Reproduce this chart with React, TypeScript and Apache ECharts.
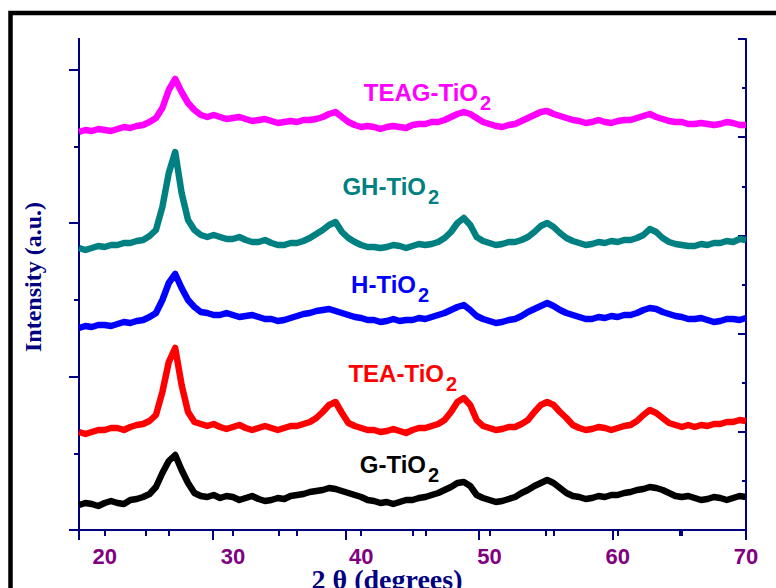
import React, { useEffect, useRef } from "react";
import * as echarts from "echarts";

// 2θ positions (degrees) shared by all patterns, 0.5° step
const twoTheta = [
  18, 18.5, 19, 19.5, 20, 20.5, 21, 21.5, 22, 22.5,
  23, 23.5, 24, 24.5, 25, 25.5, 26, 26.5, 27, 27.5,
  28, 28.5, 29, 29.5, 30, 30.5, 31, 31.5, 32, 32.5,
  33, 33.5, 34, 34.5, 35, 35.5, 36, 36.5, 37, 37.5,
  38, 38.5, 39, 39.5, 40, 40.5, 41, 41.5, 42, 42.5,
  43, 43.5, 44, 44.5, 45, 45.5, 46, 46.5, 47, 47.5,
  48, 48.5, 49, 49.5, 50, 50.5, 51, 51.5, 52, 52.5,
  53, 53.5, 54, 54.5, 55, 55.5, 56, 56.5, 57, 57.5,
  58, 58.5, 59, 59.5, 60, 60.5, 61, 61.5, 62, 62.5,
  63, 63.5, 64, 64.5, 65, 65.5, 66, 66.5, 67, 67.5,
  68, 68.5, 69, 69.5, 70,
];

// Stacked (offset) intensities, arbitrary units
const gTiO2 = [
  25, 27, 26, 24, 27, 29, 27, 26, 30, 31,
  33, 36, 43, 57, 69, 75, 60, 47, 37, 34,
  33, 35, 32, 34, 33, 30, 32, 34, 31, 29,
  30, 32, 31, 34, 35, 36, 38, 39, 40, 42,
  41, 39, 37, 35, 33, 30, 29, 27, 28, 26,
  28, 30, 30, 32, 33, 35, 37, 40, 43, 47,
  48, 44, 35, 32, 30, 28, 29, 31, 33, 37,
  40, 44, 47, 50, 47, 42, 37, 34, 33, 31,
  32, 34, 33, 35, 35, 37, 38, 40, 41, 43,
  42, 40, 37, 34, 33, 34, 32, 30, 31, 33,
  32, 30, 32, 34, 33,
];

const teaTiO2 = [
  98, 96, 98, 100, 100, 102, 102, 100, 103, 105,
  106, 109, 115, 138, 168, 182, 145, 118, 108, 106,
  104, 106, 103, 101, 103, 105, 102, 100, 102, 104,
  102, 100, 102, 104, 104, 106, 108, 112, 118, 125,
  128, 117, 107, 104, 102, 100, 100, 98, 99, 101,
  99, 97, 100, 102, 102, 104, 106, 110, 118, 128,
  132, 125, 110, 104, 102, 100, 101, 103, 103, 106,
  110, 118, 125, 128, 125, 118, 112, 105, 102, 100,
  101, 103, 102, 100, 102, 104, 105, 109, 115, 120,
  117, 112, 107, 105, 103, 105, 103, 105, 104, 106,
  106, 108, 108, 110, 109,
];

const hTiO2 = [
  202, 204, 203, 205, 205, 204, 206, 208, 207, 209,
  210, 213, 217, 230, 247, 256, 242, 230, 223, 218,
  217, 215, 215, 217, 215, 213, 214, 215, 213, 211,
  211, 209, 210, 212, 214, 216, 217, 219, 220, 221,
  219, 217, 215, 213, 212, 210, 210, 208, 209, 211,
  209, 210, 210, 212, 211, 213, 215, 217, 220, 223,
  225, 220, 214, 211, 209, 207, 208, 210, 211, 214,
  218, 221, 224, 227, 224, 220, 217, 215, 213, 211,
  211, 213, 212, 214, 213, 215, 215, 217, 220, 222,
  221, 218, 216, 214, 213, 211, 211, 212, 210, 208,
  209, 211, 211, 210, 212,
];

const ghTiO2 = [
  282, 280, 282, 284, 283, 285, 285, 287, 287, 289,
  290, 294, 300, 323, 357, 378, 337, 310, 300, 295,
  293, 295, 293, 291, 291, 293, 290, 288, 288, 290,
  287, 285, 285, 287, 287, 289, 292, 296, 300, 305,
  308, 298, 292, 288, 285, 283, 283, 282, 283, 285,
  284, 282, 284, 286, 285, 286, 288, 292, 298, 307,
  312, 305, 293, 289, 287, 285, 286, 288, 288, 290,
  293, 298, 304, 307, 303, 297, 292, 289, 287, 285,
  286, 288, 287, 289, 288, 290, 290, 292, 295, 301,
  298, 292, 288, 286, 285, 284, 284, 286, 285, 287,
  287, 289, 288, 291, 290,
];

const teagTiO2 = [
  398, 400, 399, 401, 400, 399, 401, 403, 402, 404,
  405, 408, 412, 422, 440, 451, 438, 427, 420, 415,
  413, 415, 413, 411, 412, 413, 411, 409, 410, 411,
  409, 407, 408, 409, 408, 410, 410, 411, 413, 416,
  418, 413, 408, 405, 403, 404, 403, 401, 403, 404,
  403, 402, 405, 406, 406, 408, 408, 410, 413, 416,
  418, 416, 412, 408, 406, 404, 403, 405, 406, 409,
  412, 415, 418, 419, 416, 414, 412, 410, 409, 407,
  408, 410, 408, 407, 409, 410, 410, 412, 414, 416,
  413, 411, 409, 408, 408, 406, 406, 407, 406, 405,
  406, 408, 407, 405, 405,
];

const sampleNames = ["G-TiO", "TEA-TiO", "H-TiO", "GH-TiO", "TEAG-TiO"];
const sampleColors = ["#000000", "#ff0000", "#0000ff", "#008080", "#ff00ff"];
const sampleSeries = [gTiO2, teaTiO2, hTiO2, ghTiO2, teagTiO2];

// Axis ticks
const xTickValues = [20, 25, 30, 35, 40, 45, 50, 55, 60, 65, 70];
const xLabelValues = [20, 30, 40, 50, 60, 70];
const leftMajorTicks = [0, 2, 4, 6];
const leftMinorTicks = [1, 3, 5];

// Label anchors: right end of the main text and its baseline
const labelAnchors = [
  { x: 426, y: 476 },
  { x: 444, y: 385 },
  { x: 416, y: 296 },
  { x: 426, y: 198 },
  { x: 478, y: 104 },
];

const NAVY = "#000080";
const SANS = 'Arial, "Liberation Sans", sans-serif';
const SERIF = '"Times New Roman", "Liberation Serif", serif';

export default function App() {
  const ref = useRef<HTMLDivElement>(null);

  useEffect(() => {
    if (!ref.current) return;
    const chart = echarts.init(ref.current, null, { renderer: "svg" });

    const axisLine = { show: true, lineStyle: { color: NAVY, width: 2 } };

    const labelGraphics: any[] = [];
    sampleNames.forEach((name, i) => {
      const a = labelAnchors[i];
      labelGraphics.push({
        type: "text",
        x: a.x,
        y: a.y,
        style: {
          text: name,
          fill: sampleColors[i],
          font: `bold 24px ${SANS}`,
          align: "right",
          verticalAlign: "bottom",
          textAlign: "right",
          textVerticalAlign: "bottom",
        },
        silent: true,
      });
      labelGraphics.push({
        type: "text",
        x: a.x + 2,
        y: a.y + 9,
        style: {
          text: "2",
          fill: sampleColors[i],
          font: `bold 20px ${SANS}`,
          align: "left",
          verticalAlign: "bottom",
          textAlign: "left",
          textVerticalAlign: "bottom",
        },
        silent: true,
      });
    });

    chart.setOption({
      animation: false,
      backgroundColor: "#ffffff",
      grid: { left: 79, top: 39, width: 667, height: 491, containLabel: false },
      xAxis: [
        {
          type: "value",
          position: "bottom",
          min: 18,
          max: 70,
          axisLine,
          axisTick: {
            show: true,
            inside: false,
            length: 6,
            customValues: xTickValues,
            lineStyle: { color: NAVY, width: 2 },
          },
          axisLabel: {
            show: true,
            customValues: xLabelValues,
            color: "#800080",
            fontSize: 22,
            fontWeight: "bold",
            fontFamily: SANS,
            margin: 15,
          },
          splitLine: { show: false },
        },
        {
          type: "value",
          position: "top",
          min: 0,
          max: 10,
          interval: 2,
          axisLine,
          axisTick: { show: true, inside: true, length: 10, lineStyle: { color: NAVY, width: 2 } },
          minorTick: { show: true, splitNumber: 2, length: 6, lineStyle: { color: NAVY, width: 2 } },
          axisLabel: { show: false },
          splitLine: { show: false },
        },
      ],
      yAxis: [
        {
          type: "value",
          min: 0,
          max: 491,
          show: false,
          splitLine: { show: false },
        },
        {
          type: "value",
          position: "left",
          min: 0,
          max: 6.4,
          axisLine,
          axisTick: {
            show: true,
            inside: false,
            length: 10,
            customValues: leftMajorTicks,
            lineStyle: { color: NAVY, width: 2 },
          },
          axisLabel: { show: false },
          splitLine: { show: false },
        },
        {
          type: "value",
          position: "left",
          min: 0,
          max: 6.4,
          axisLine,
          axisTick: {
            show: true,
            inside: false,
            length: 5,
            customValues: leftMinorTicks,
            lineStyle: { color: NAVY, width: 2 },
          },
          axisLabel: { show: false },
          splitLine: { show: false },
        },
        {
          type: "value",
          position: "right",
          min: 0,
          max: 10,
          interval: 2,
          axisLine,
          axisTick: { show: true, inside: true, length: 8, lineStyle: { color: NAVY, width: 2 } },
          minorTick: { show: true, splitNumber: 2, length: 4, lineStyle: { color: NAVY, width: 2 } },
          axisLabel: { show: false },
          splitLine: { show: false },
        },
      ],
      series: sampleSeries.map((vals, i) => ({
        name: sampleNames[i] + "2",
        type: "line",
        xAxisIndex: 0,
        yAxisIndex: 0,
        data: twoTheta.map((t, j) => [t, vals[j]]),
        showSymbol: false,
        symbol: "none",
        lineStyle: { color: sampleColors[i], width: 6.5, join: "round" },
        z: 3,
      })),
      graphic: [
        {
          type: "rect",
          shape: { x: 10.5, y: 13, width: 820, height: 640 },
          style: { fill: "none", stroke: "#000000", lineWidth: 4.5 },
          silent: true,
          z: 100,
        },
        {
          type: "text",
          x: 33,
          y: 277,
          rotation: Math.PI / 2,
          style: {
            text: "Intensity (a.u.)",
            fill: NAVY,
            font: `bold 24px ${SERIF}`,
            align: "center",
            verticalAlign: "middle",
            textAlign: "center",
            textVerticalAlign: "middle",
          },
          silent: true,
        },
        {
          type: "text",
          x: 387,
          y: 588,
          style: {
            text: "2 θ (degrees)",
            fill: NAVY,
            font: `bold 28px ${SERIF}`,
            lineHeight: 18,
            align: "center",
            verticalAlign: "bottom",
            textAlign: "center",
            textVerticalAlign: "bottom",
          },
          silent: true,
        },
        ...labelGraphics,
      ],
    });

    return () => chart.dispose();
  }, []);

  return (
    <div
      ref={ref}
      style={{ position: "fixed", left: 0, top: 0, width: 776, height: 588 }}
    />
  );
}
